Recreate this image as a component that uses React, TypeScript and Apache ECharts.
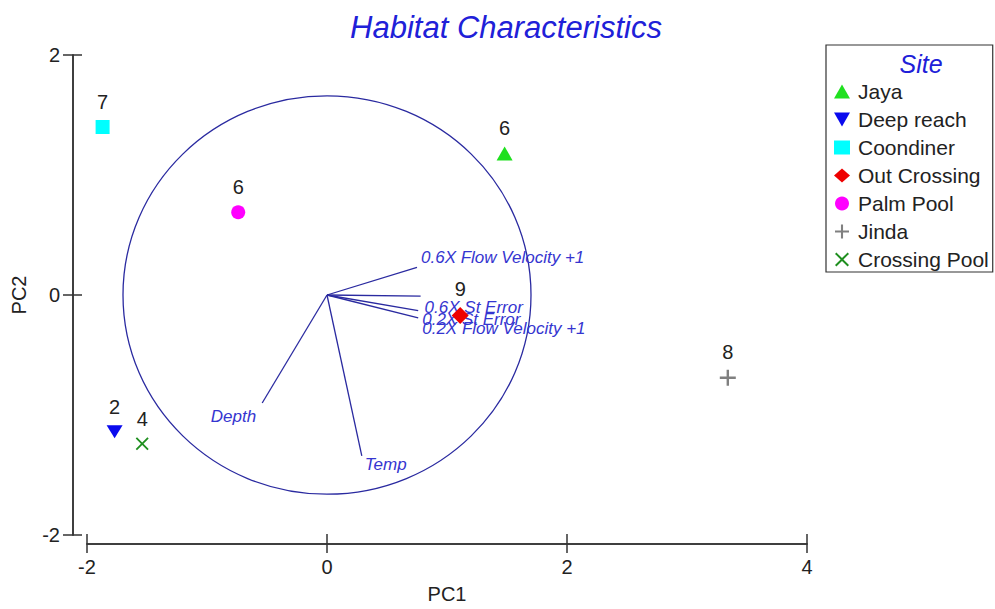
import React, { useEffect, useRef } from "react";
import * as echarts from "echarts";

// ---- data ----
const sites = ["Jaya", "Deep reach", "Coondiner", "Out Crossing", "Palm Pool", "Jinda", "Crossing Pool"];
const pc1 = [1.48, -1.77, -1.87, 1.11, -0.74, 3.34, -1.54];
const pc2 = [1.18, -1.14, 1.40, -0.17, 0.69, -0.69, -1.24];
const counts = [6, 2, 7, 9, 6, 8, 4];

const vectorNames = ["0.6X Flow Velocity +1", "0.6X St Error", "0.2X St Error", "0.2X Flow Velocity +1", "Depth", "Temp"];
const vectorX = [0.75, 0.78, 0.76, 0.76, -0.54, 0.29];
const vectorY = [0.23, -0.01, -0.13, -0.19, -0.9, -1.34];
const circleRadiusX = 1.7;
const circleRadiusY = 1.66;

const xTicks = { min: -2, max: 4, interval: 2 };
const yTicks = { min: -2, max: 2, interval: 2 };

// ---- styles ----
const FONT = "'Liberation Sans', Arial, sans-serif";
const siteColors = ["#1fe01f", "#0a0aee", "#00ffff", "#ee0000", "#ff00ff", "#808080", "#1f8f1f"];
const siteSymbols = [
  "triangle",
  "path://M0,0 L16,0 L8,14 Z",
  "rect",
  "diamond",
  "circle",
  "path://M6.8,0 H9.2 V6.8 H16 V9.2 H9.2 V16 H6.8 V9.2 H0 V6.8 H6.8 Z",
  "path://M1.6,0 L8,6.4 L14.4,0 L16,1.6 L9.6,8 L16,14.4 L14.4,16 L8,9.6 L1.6,16 L0,14.4 L6.4,8 L0,1.6 Z",
];
const siteSizes: any[] = [[16, 14], [16, 13], 14, [17, 17], 14, 16, 13];
// label placement for vectors: [dx, dy, align]
const vectorLabelPlace: [number, number, string][] = [
  [4, -10, "left"],
  [4, 11, "left"],
  [4, 9, "left"],
  [4, 11, "left"],
  [-6, 13, "right"],
  [3, 9, "left"],
];
const AXIS = "#333";
const VEC = "#2a2aa0";
const VEC_TEXT = "#3535d0";

export default function App() {
  const ref = useRef<HTMLDivElement>(null);
  useEffect(() => {
    if (!ref.current) return;
    const chart = echarts.init(ref.current, null, { renderer: "svg" });

    const axisBase = (extra: any) => ({
      type: "value",
      splitLine: { show: false },
      ...extra,
    });

    const scatterSeries = sites.map((s, i) => ({
      name: s,
      type: "scatter",
      xAxisIndex: 0,
      yAxisIndex: 0,
      symbol: siteSymbols[i],
      symbolSize: siteSizes[i],
      itemStyle: { color: siteColors[i], opacity: 1 },
      data: [[pc1[i], pc2[i], counts[i]]],
      label: {
        show: true,
        position: "top",
        distance: 8,
        formatter: (p: any) => String(p.value[2]),
        fontSize: 20,
        color: "#222",
        fontFamily: FONT,
      },
      z: 5,
    }));

    const option: any = {
      animation: false,
      backgroundColor: "#fff",
      title: [
        {
          text: "Habitat Characteristics",
          left: 501,
          top: 7,
          textAlign: "center",
          textStyle: { fontSize: 31, fontStyle: "italic", fontWeight: "normal", color: "#2020d8", fontFamily: FONT },
        },
        {
          text: "Site",
          left: 916,
          top: 46,
          textAlign: "center",
          textStyle: { fontSize: 25, fontStyle: "italic", fontWeight: "normal", color: "#2020d8", fontFamily: FONT },
        },
      ],
      legend: {
        orient: "vertical",
        left: 826,
        top: 45,
        data: sites,
        padding: [36, 4, 2, 8],
        itemWidth: 16,
        itemHeight: 14,
        itemGap: 7,
        borderColor: "#333",
        borderWidth: 1.2,
        textStyle: { fontSize: 21, lineHeight: 20, color: "#222", fontFamily: FONT, padding: [0, 0, 0, 3] },
        selectedMode: false,
      },
      grid: { left: 87, right: 188, top: 55, bottom: 70 },
      xAxis: [
        axisBase({
          ...xTicks,
          position: "bottom",
          offset: 9,
          name: "PC1",
          nameLocation: "middle",
          nameGap: 40,
          nameTextStyle: { fontSize: 20, color: "#222", fontFamily: FONT },
          axisLine: { show: true, onZero: false, lineStyle: { color: AXIS, width: 1.5 } },
          axisTick: { show: true, inside: false, length: 9, lineStyle: { color: AXIS, width: 1.5 } },
          axisLabel: { fontSize: 20, color: "#222", margin: 13, fontFamily: FONT },
        }),
        axisBase({
          ...xTicks,
          position: "bottom",
          offset: 9,
          axisLine: { show: true, onZero: false, lineStyle: { color: AXIS, width: 1.5 } },
          axisTick: { show: true, inside: true, length: 10, lineStyle: { color: AXIS, width: 1.5 } },
          axisLabel: { show: false },
        }),
      ],
      yAxis: [
        axisBase({
          ...yTicks,
          position: "left",
          offset: 14,
          name: "PC2",
          nameLocation: "middle",
          nameGap: 44,
          nameTextStyle: { fontSize: 20, color: "#222", fontFamily: FONT },
          axisLine: { show: true, onZero: false, lineStyle: { color: AXIS, width: 1.5 } },
          axisTick: { show: true, inside: false, length: 10, lineStyle: { color: AXIS, width: 1.5 } },
          axisLabel: { fontSize: 20, color: "#222", margin: 13, fontFamily: FONT },
        }),
        axisBase({
          ...yTicks,
          position: "left",
          offset: 14,
          axisLine: { show: true, onZero: false, lineStyle: { color: AXIS, width: 1.5 } },
          axisTick: { show: true, inside: true, length: 9, lineStyle: { color: AXIS, width: 1.5 } },
          axisLabel: { show: false },
        }),
      ],
      series: [
        {
          type: "custom",
          name: "circle",
          xAxisIndex: 0,
          yAxisIndex: 0,
          clip: false,
          silent: true,
          data: [[0, 0, circleRadiusX, circleRadiusY]],
          renderItem: (params: any, api: any) => {
            const c = api.coord([api.value(0), api.value(1)]);
            const s = api.size([api.value(2), api.value(3)]);
            return {
              type: "ellipse",
              shape: { cx: c[0], cy: c[1], rx: s[0], ry: s[1] },
              style: { fill: "none", stroke: VEC, lineWidth: 1.3 },
            };
          },
          z: 1,
        },
        {
          type: "custom",
          name: "vectors",
          xAxisIndex: 0,
          yAxisIndex: 0,
          clip: false,
          silent: true,
          data: vectorNames.map((n, i) => [vectorX[i], vectorY[i], i]),
          renderItem: (params: any, api: any) => {
            const o = api.coord([0, 0]);
            const e = api.coord([api.value(0), api.value(1)]);
            const idx = api.value(2);
            const [dx, dy, align] = vectorLabelPlace[idx];
            return {
              type: "group",
              children: [
                {
                  type: "line",
                  shape: { x1: o[0], y1: o[1], x2: e[0], y2: e[1] },
                  style: { stroke: VEC, lineWidth: 1.3 },
                },
                {
                  type: "text",
                  x: e[0] + dx,
                  y: e[1] + dy,
                  style: {
                    text: vectorNames[idx],
                    fill: VEC_TEXT,
                    fontSize: 17,
                    fontStyle: "italic",
                    fontFamily: FONT,
                    align,
                    verticalAlign: "middle",
                  },
                  z2: 10,
                },
              ],
            };
          },
          z: 2,
        },
        ...scatterSeries,
      ],
    };
    chart.setOption(option);
    return () => chart.dispose();
  }, []);

  return (
    <div
      ref={ref}
      style={{ position: "absolute", left: 0, top: 0, width: 995, height: 609, background: "#fff" }}
    />
  );
}
